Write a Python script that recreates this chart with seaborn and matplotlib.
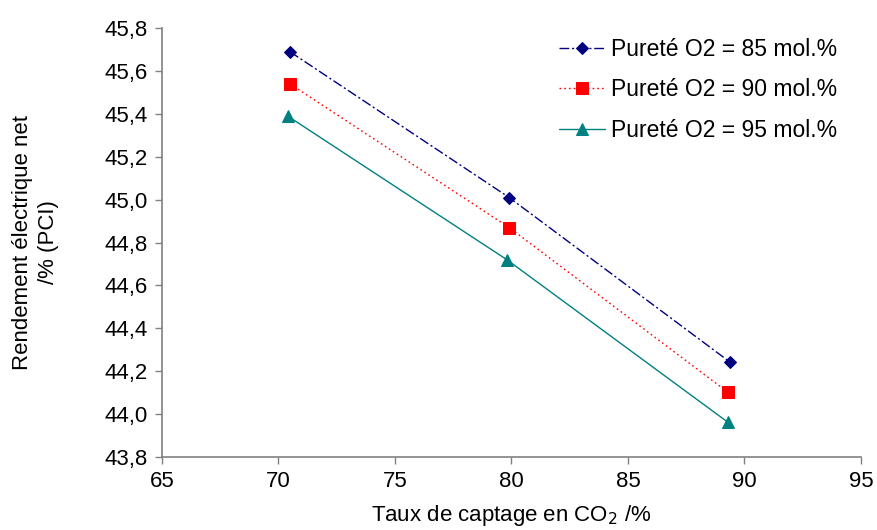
import numpy as np
import pandas as pd
import matplotlib
matplotlib.use("Agg")
import matplotlib.pyplot as plt
from matplotlib.ticker import FuncFormatter, MultipleLocator
import seaborn as sns

# data
taux_85 = [70.5, 79.9, 89.4]
rend_85 = [45.69, 45.01, 44.24]
taux_90 = [70.5, 79.9, 89.3]
rend_90 = [45.54, 44.87, 44.10]
taux_95 = [70.4, 79.8, 89.3]
rend_95 = [45.39, 44.72, 43.96]
labels = ["Pureté O2 = 85 mol.%", "Pureté O2 = 90 mol.%", "Pureté O2 = 95 mol.%"]

df = pd.concat([
    pd.DataFrame({"taux": taux_85, "rend": rend_85, "serie": labels[0]}),
    pd.DataFrame({"taux": taux_90, "rend": rend_90, "serie": labels[1]}),
    pd.DataFrame({"taux": taux_95, "rend": rend_95, "serie": labels[2]}),
])

sns.set_style("white")
plt.rcParams["font.family"] = ["Liberation Sans", "DejaVu Sans"]
plt.rcParams["font.size"] = 12
plt.rcParams["text.color"] = "black"
plt.rcParams["axes.labelcolor"] = "black"
plt.rcParams["xtick.labelcolor"] = "black"
plt.rcParams["ytick.labelcolor"] = "black"

fig = plt.figure(figsize=(8.77, 5.30), dpi=100)
ax = fig.add_axes([0.1847, 0.1383, 0.797, 0.8083])

pal = {labels[0]: "#000080", labels[1]: "#ff0000", labels[2]: "#008080"}
mk = {labels[0]: "D", labels[1]: "s", labels[2]: "^"}
dsh = {labels[0]: (7, 2, 1.5, 2), labels[1]: (1.2, 2.2), labels[2]: ""}
sz = {labels[0]: 6, labels[1]: 8, labels[2]: 8}

for lab in labels:
    sub = df[df["serie"] == lab]
    sns.lineplot(data=sub, x="taux", y="rend", ax=ax, color=pal[lab],
                 marker=mk[lab], markersize=sz[lab], markeredgecolor=pal[lab],
                 linewidth=1, label=lab)
for line, lab in zip(ax.get_lines(), labels):
    if dsh[lab]:
        line.set_dashes(dsh[lab])

ax.set_xlim(65, 95)
ax.set_ylim(43.8, 45.8)
ax.xaxis.set_major_locator(MultipleLocator(5))
ax.yaxis.set_major_locator(MultipleLocator(0.2))
ax.yaxis.set_major_formatter(FuncFormatter(lambda v, p: f"{v:.1f}".replace(".", ",")))
ax.xaxis.set_major_formatter(FuncFormatter(lambda v, p: f"{v:.0f}"))

for s in ["top", "right"]:
    ax.spines[s].set_visible(False)
for s in ["left", "bottom"]:
    ax.spines[s].set_color("#808080")
    ax.spines[s].set_linewidth(1.2)
ax.tick_params(axis="both", direction="out", length=5, width=1, color="#808080",
               labelsize=16, labelcolor="black", pad=5, left=True, bottom=True)

ax.set_xlabel("Taux de captage en CO$_2$ /%", fontsize=16, labelpad=8, color="black")
ax.set_ylabel("Rendement électrique net\n/% (PCI)", fontsize=16, labelpad=33,
              linespacing=1.3, color="black")

ax.legend(loc="upper right", frameon=False, fontsize=16.5, handlelength=2.0,
          handletextpad=0.25, labelspacing=0.75, bbox_to_anchor=(0.995, 1.025))

fig.savefig("out.png", dpi=100)
